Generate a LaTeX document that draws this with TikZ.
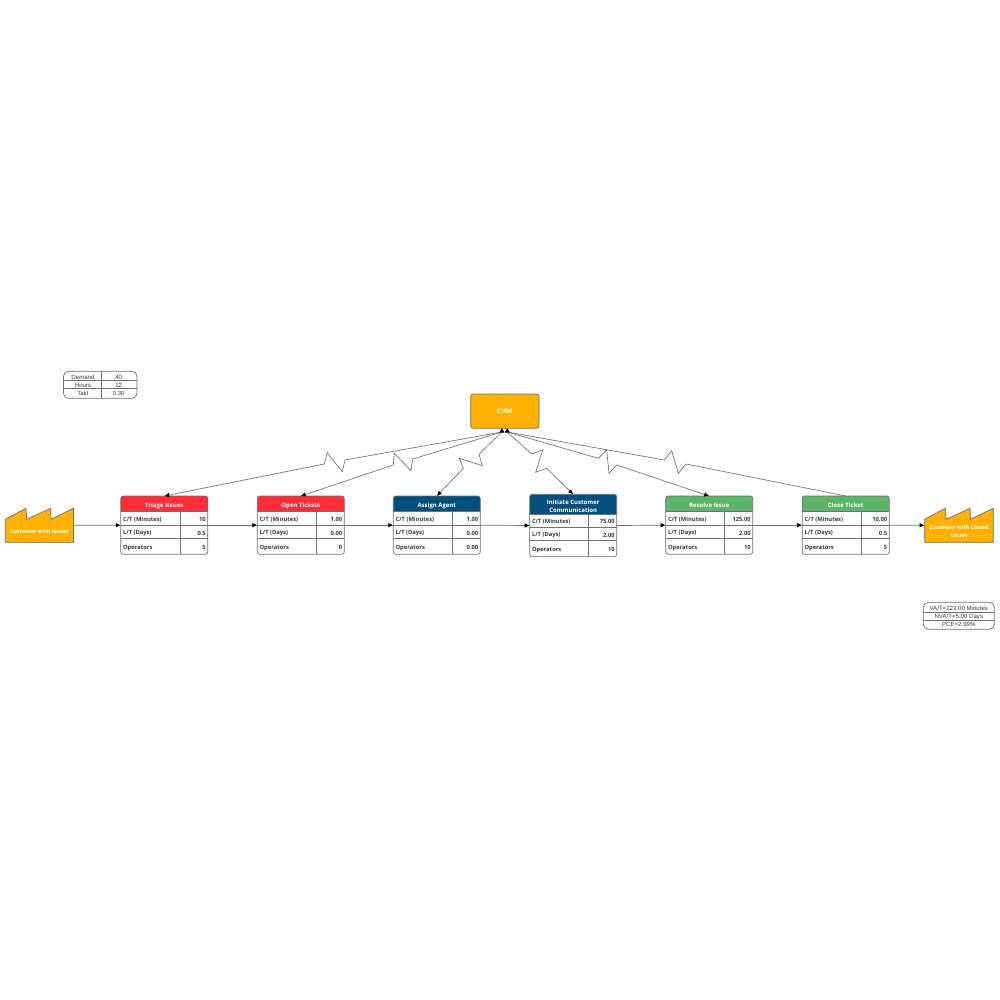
\documentclass[tikz,border=0pt]{standalone}
\usepackage{fontspec}
\setmainfont{Open Sans}
\newfontfamily\tablefont{Liberation Sans}
\usetikzlibrary{arrows.meta}
\definecolor{cred}{HTML}{FE2C34}
\definecolor{cblue}{HTML}{03507F}
\definecolor{cgreen}{HTML}{5DB56A}
\definecolor{corange}{HTML}{FFB000}
\definecolor{cline}{HTML}{707070}
\definecolor{ctext}{HTML}{3A3A3A}
\tikzset{
  every node/.style={inner sep=0pt,outer sep=0pt},
  framebox/.style={draw=cline,line width=0.7pt,rounded corners=2.5pt},
  rule/.style={draw=cline,line width=0.7pt},
  flow/.style={draw=cline,line width=0.7pt,-{Latex[length=5pt,width=4.5pt,black]}},
  signal/.style={draw=cline,line width=0.65pt,line join=miter,{Latex[length=4pt,width=5pt,black]}-{Latex[length=5pt,width=4.5pt,black]}},
  signalin/.style={draw=cline,line width=0.65pt,line join=miter,{Latex[length=4pt,width=5pt,black]}-},
  headtext/.style={text=white,font=\fontsize{6}{8}\selectfont\bfseries,align=center},
  factorytext/.style={text=white,font=\fontsize{5.45}{8}\selectfont\bfseries,align=center},
  chmtext/.style={text=white,font=\fontsize{6.4}{8}\selectfont\bfseries},
  celltext/.style={text=ctext,font=\fontsize{5.8}{7}\selectfont\bfseries},
  tabletext/.style={text=ctext,font=\tablefont\fontsize{6.1}{7}\selectfont},
  factory/.style={fill=corange,draw=cline,line width=0.7pt,line join=miter},
}
% name, left, top, header bottom, row1, row2, bottom, column, colour, title, ct, lt, ops
\newcommand{\procbox}[9]{%
  \def\pname{#1}\def\pl{#2}\def\pt{#3}\def\phb{#4}\def\pra{#5}\def\prb{#6}\def\pb{#7}\def\pc{#8}\def\pcol{#9}%
  \procboxb}
\newcommand{\procboxb}[4]{%
  \pgfmathsetmacro{\pr}{\pl+87}%
  \pgfmathsetmacro{\pmx}{\pl+43.5}%
  \pgfmathsetmacro{\pmy}{(\pt+\pb)/2}%
  \pgfmathsetmacro{\phy}{(\pt+\phb)/2+1.9}%
  \pgfmathsetmacro{\pyA}{(\phb+\pra)/2+1.4}%
  \pgfmathsetmacro{\pyB}{(\pra+\prb)/2+1.2}%
  \pgfmathsetmacro{\pyC}{(\prb+\pb)/2+1.2}%
  \pgfmathsetmacro{\plt}{\pl+2.3}%
  \pgfmathsetmacro{\prt}{\pr-2}%
  \pgfmathsetmacro{\ph}{\pb-\pt}%
  \path[fill=\pcol] (\pl,\phb) [rounded corners=2.5pt] -- (\pl,\pt) -- (\pr,\pt) [sharp corners] -- (\pr,\phb) -- cycle;
  \draw[rule] (\pl,\phb) -- (\pr,\phb) (\pl,\pra) -- (\pr,\pra) (\pl,\prb) -- (\pr,\prb) (\pc,\phb) -- (\pc,\pb);
  \node[framebox,minimum width=87pt,minimum height=\ph pt] (\pname) at (\pmx,\pmy) {};
  \node[headtext] (\pname head) at (\pmx,\phy) {#1};
  \node[celltext,anchor=west] (\pname cta) at (\plt,\pyA) {C/T (Minutes)};
  \node[celltext,anchor=east] (\pname ctb) at (\prt,\pyA-0.6) {#2};
  \node[celltext,anchor=west] (\pname lta) at (\plt,\pyB) {L/T (Days)};
  \node[celltext,anchor=east] (\pname ltb) at (\prt,\pyB) {#3};
  \node[celltext,anchor=west] (\pname opa) at (\plt,\pyC) {Operators};
  \node[celltext,anchor=east] (\pname opb) at (\prt,\pyC) {#4};
}
\begin{document}
\begin{tikzpicture}[x=1pt,y=-1pt]
\useasboundingbox (0,0) rectangle (1000,1000);
\fill[white] (0,0) rectangle (1000,1000);

% small table, top left
\draw[rule] (63.5,380.7) -- (137,380.7) (63.5,388.7) -- (137,388.7) (101.3,371.3) -- (101.3,398.3);
\node[framebox,minimum width=73.5pt,minimum height=27pt,rounded corners=5pt] (demand) at (100.25,384.8) {};
\node[tabletext] (d1) at (83,377.2) {Demand};
\node[tabletext] (d2) at (118.7,377.2) {40};
\node[tabletext] (d3) at (83,385.4) {Hours};
\node[tabletext] (d4) at (118.7,385.4) {12};
\node[tabletext] (d5) at (83,393.4) {Takt};
\node[tabletext] (d6) at (118.7,393.4) {0.30};

% small table, bottom right
\draw[rule] (923.3,612) -- (994.3,612) (923.3,620) -- (994.3,620);
\node[framebox,minimum width=71pt,minimum height=27pt,rounded corners=5pt] (summary) at (958.8,615.8) {};
\node[tabletext] (s1) at (958.8,608.2) {VA/T=222.00 Minutes};
\node[tabletext] (s2) at (958.8,616.5) {NVA/T=5.00 Days};
\node[tabletext] (s3) at (958.8,624.4) {PCE=2.99\%};

% CHM
\node[fill=corange,framebox,minimum width=68.3pt,minimum height=34.3pt] (chm) at (504.85,411.15) {};
\node[chmtext] (chmlabel) at (504.7,411.6) {CHM};
\coordinate (chmL) at (501.8,428.3);
\coordinate (chmR) at (507.2,428.3);
\coordinate (chmLb) at (501.8,432);
\coordinate (chmRb) at (507.2,432);

% factories
\draw[factory] (5.3,542.3) -- (5.3,519.3) -- (26,508.3) -- (26.7,519.3) -- (50.7,508.3) -- (51,519.3) -- (73.4,508.3) -- (73.4,542.3) -- cycle;
\node[minimum width=68.1pt,minimum height=34pt] (cust) at (39.35,525.3) {};
\node[factorytext] (custlabel) at (39.35,531.2) {Customer with Issues};
\draw[factory] (924.7,542.3) -- (924.7,519.3) -- (945.4,508.3) -- (946.1,519.3) -- (970.1,508.3) -- (970.4,519.3) -- (993.3,508.3) -- (993.3,542.3) -- cycle;
\node[minimum width=68.6pt,minimum height=34pt] (done) at (959,525.3) {};
\node[factorytext] (donelabel) at (959,531.2) {Customer with Closed\\Issues};

% process boxes
\procbox{triage}{120.8}{496}{511.6}{525}{538.5}{554.3}{180}{cred}{Triage Issues}{10}{0.5}{5}
\procbox{open}{257.3}{496}{511.6}{525}{538.5}{554.3}{316.3}{cred}{Open Tickets}{1.00}{0.00}{0}
\procbox{assign}{393.3}{496}{511.6}{525}{538.5}{554.3}{452.7}{cblue}{Assign Agent}{1.00}{0.00}{0.00}
\procbox{initiate}{529.7}{494.3}{514}{527.3}{540.7}{556.7}{588.7}{cblue}{Initiate Customer\\Communication}{75.00}{2.00}{10}
\procbox{resolve}{665.7}{496}{511.6}{525}{538.5}{554.3}{724.7}{cgreen}{Resolve Issue}{125.00}{2.00}{10}
\procbox{close}{802.2}{496}{511.6}{525}{538.5}{554.3}{861}{cgreen}{Close Ticket}{10.00}{0.5}{5}

% flow arrows
\foreach \a/\b in {cust/triage,triage/open,open/assign,assign/initiate,initiate/resolve,resolve/close,close/done}
  \draw[flow] (\a.east) -- (\b.west);

% signal connectors
\draw[signal] (chmL) -- (chmLb) -- (345,460) -- (342.3,471.7) -- (327.3,452.7) -- (324.3,464) -- (triage.north);
\draw[signal] (chmL) -- (chmLb) -- (412.7,459) -- (411,470.7) -- (394.3,453.3) -- (393.3,465) -- (open.north);
\draw[signal] (chmL) -- (chmLb) -- (479,454.3) -- (482.3,465.7) -- (459.3,458.3) -- (463.3,468.3) -- (assign.north);
\draw[signal] (chmR) -- (chmRb) -- (531.7,454) -- (542.7,450) -- (535.7,472.3) -- (546.7,468.3) -- (initiate.north);
\draw[signal] (chmR) -- (chmRb) -- (598.3,458.3) -- (606.7,450) -- (609,473.3) -- (616.7,465) -- (resolve.north);
\draw[signalin] (chmR) -- (chmRb) -- (664.3,460) -- (671.7,450.7) -- (678.3,473.3) -- (686,464) -- (close.north);
\end{tikzpicture}
\end{document}
